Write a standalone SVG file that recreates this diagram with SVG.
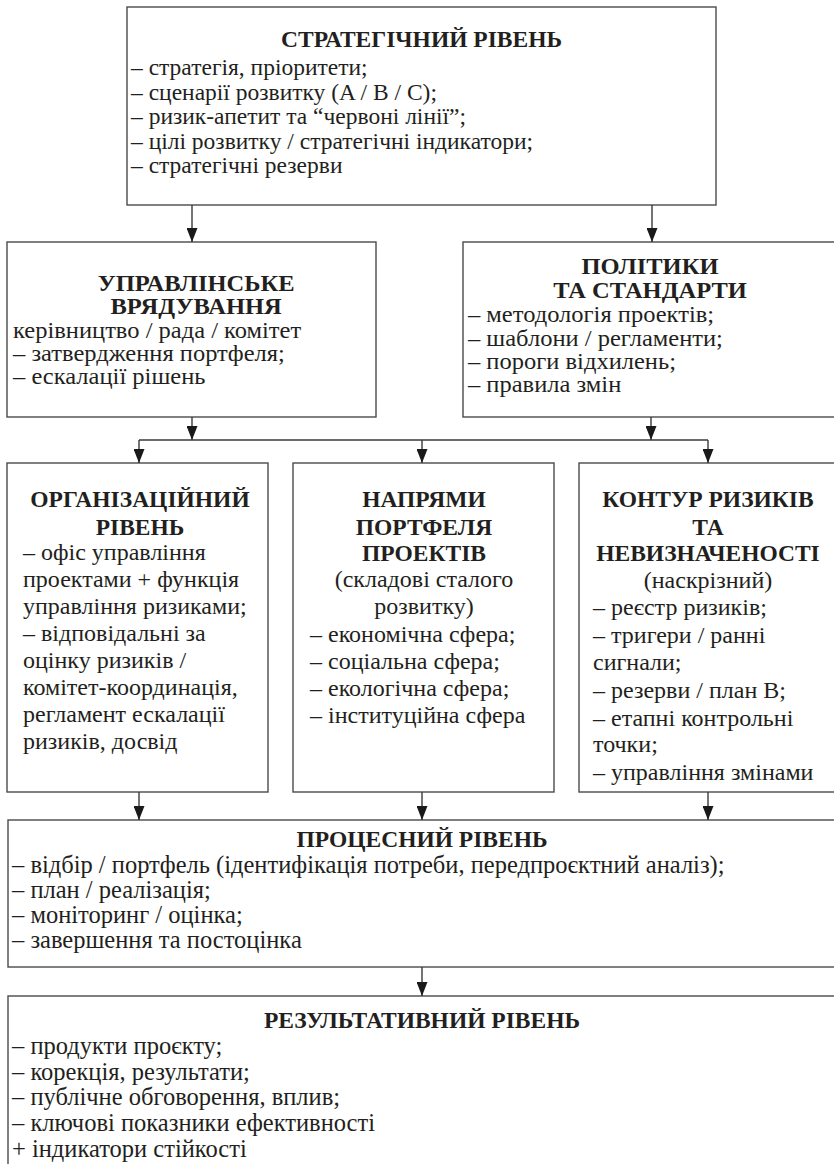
<svg xmlns="http://www.w3.org/2000/svg" width="834" height="1164" viewBox="0 0 834 1164">
<style>
.box{fill:#fff;stroke:#4a4a4a;stroke-width:1.4}
.t{font-family:"Liberation Serif","Times New Roman",serif;fill:#231f20}
.h{font-weight:bold;text-anchor:middle}
.c{text-anchor:middle}
.s1{font-size:23.5px}
.h1{font-size:23.5px}
.s2{font-size:22.5px}
.s4{font-size:24.5px}
.s3{font-size:24px}
.h3{font-size:23.5px}
.con{stroke:#3a3a3a;stroke-width:1.4;fill:none}
</style>
<defs>
<marker id="ah" markerUnits="userSpaceOnUse" markerWidth="14" markerHeight="11" viewBox="0 0 14 11" refX="14" refY="5.5" orient="auto">
<path d="M0,0 L14,5.5 L0,11 Z" fill="#1a1a1a"/>
</marker>
</defs>

<g id="strategic">
<rect class="box" x="127" y="7" width="589" height="198"/>
<text class="t h h1" x="421.5" y="47">СТРАТЕГІЧНИЙ РІВЕНЬ</text>
<text class="t s1" x="131" y="75">– стратегія, пріоритети;</text>
<text class="t s1" x="131" y="99.5">– сценарії розвитку (A / B / C);</text>
<text class="t s1" x="131" y="124">– ризик-апетит та “червоні лінії”;</text>
<text class="t s1" x="131" y="148.5">– цілі розвитку / стратегічні індикатори;</text>
<text class="t s1" x="131" y="173">– стратегічні резерви</text>
</g>

<g id="governance">
<rect class="box" x="7" y="242" width="369" height="175"/>
<g transform="translate(13,0) scale(1.09,1) translate(-13,0)">
<text class="t h s2" x="181" y="291">УПРАВЛІНСЬКЕ</text>
<text class="t h s2" x="181" y="314">ВРЯДУВАННЯ</text>
<text class="t s2" x="13" y="338">керівництво / рада / комітет</text>
<text class="t s2" x="13" y="361">– затвердження портфеля;</text>
<text class="t s2" x="13" y="384">– ескалації рішень</text>
</g>
</g>

<g id="policies">
<rect class="box" x="463" y="242" width="378" height="175"/>
<g transform="translate(468,0) scale(1.09,1) translate(-468,0)">
<text class="t h s2" x="635" y="274">ПОЛІТИКИ</text>
<text class="t h s2" x="635" y="298">ТА СТАНДАРТИ</text>
<text class="t s2" x="468" y="322">– методологія проектів;</text>
<text class="t s2" x="468" y="346">– шаблони / регламенти;</text>
<text class="t s2" x="468" y="369">– пороги відхилень;</text>
<text class="t s2" x="468" y="392">– правила змін</text>
</g>
</g>

<g id="organizational">
<rect class="box" x="7" y="463" width="261" height="329"/>
<text class="t h h3" x="140" y="507">ОРГАНІЗАЦІЙНИЙ</text>
<text class="t h h3" x="140" y="535">РІВЕНЬ</text>
<text class="t s3" x="23" y="560">– офіс управління</text>
<text class="t s3" x="23" y="587">проектами + функція</text>
<text class="t s3" x="23" y="614">управління ризиками;</text>
<text class="t s3" x="23" y="641">– відповідальні за</text>
<text class="t s3" x="23" y="668">оцінку ризиків /</text>
<text class="t s3" x="23" y="695">комітет-координація,</text>
<text class="t s3" x="23" y="722">регламент ескалації</text>
<text class="t s3" x="23" y="749">ризиків, досвід</text>
</g>

<g id="portfolio">
<rect class="box" x="293" y="463" width="261" height="329"/>
<text class="t h h3" x="424" y="507">НАПРЯМИ</text>
<text class="t h h3" x="424" y="535">ПОРТФЕЛЯ</text>
<text class="t h h3" x="424" y="561">ПРОЕКТІВ</text>
<text class="t c s3" x="424" y="587">(складові сталого</text>
<text class="t c s3" x="424" y="614">розвитку)</text>
<text class="t s3" x="310" y="642">– економічна сфера;</text>
<text class="t s3" x="310" y="669">– соціальна сфера;</text>
<text class="t s3" x="310" y="696">– екологічна сфера;</text>
<text class="t s3" x="310" y="723">– інституційна сфера</text>
</g>

<g id="risk">
<rect class="box" x="579" y="463" width="262" height="329"/>
<text class="t h h3" x="708" y="507">КОНТУР РИЗИКІВ</text>
<text class="t h h3" x="708" y="535">ТА</text>
<text class="t h h3" x="708" y="561">НЕВИЗНАЧЕНОСТІ</text>
<text class="t c s3" x="708" y="588">(наскрізний)</text>
<text class="t s3" x="593" y="615">– реєстр ризиків;</text>
<text class="t s3" x="593" y="643">– тригери / ранні</text>
<text class="t s3" x="593" y="670">сигнали;</text>
<text class="t s3" x="593" y="698">– резерви / план В;</text>
<text class="t s3" x="593" y="726">– етапні контрольні</text>
<text class="t s3" x="593" y="752">точки;</text>
<text class="t s3" x="593" y="780">– управління змінами</text>
</g>

<g id="process">
<rect class="box" x="8" y="820" width="830" height="147"/>
<text class="t h h1" x="422" y="847">ПРОЦЕСНИЙ РІВЕНЬ</text>
<text class="t s4" x="12" y="873">– відбір / портфель (ідентифікація потреби, передпроєктний аналіз);</text>
<text class="t s4" x="12" y="898">– план / реалізація;</text>
<text class="t s4" x="12" y="923">– моніторинг / оцінка;</text>
<text class="t s4" x="12" y="948">– завершення та постоцінка</text>
</g>

<g id="result">
<rect class="box" x="8" y="996" width="830" height="190"/>
<text class="t h h1" x="422" y="1028">РЕЗУЛЬТАТИВНИЙ РІВЕНЬ</text>
<text class="t s4" x="12" y="1054">– продукти проєкту;</text>
<text class="t s4" x="12" y="1080">– корекція, результати;</text>
<text class="t s4" x="12" y="1105">– публічне обговорення, вплив;</text>
<text class="t s4" x="12" y="1131">– ключові показники ефективності</text>
<text class="t s4" x="12" y="1157">+ індикатори стійкості</text>
</g>

<g id="connectors">
<line class="con" x1="192" y1="205" x2="192" y2="242" marker-end="url(#ah)"/>
<line class="con" x1="652" y1="205" x2="652" y2="242" marker-end="url(#ah)"/>
<line class="con" x1="192" y1="417" x2="192" y2="440" marker-end="url(#ah)"/>
<line class="con" x1="651" y1="417" x2="651" y2="440" marker-end="url(#ah)"/>
<line class="con" x1="139" y1="440" x2="708" y2="440"/>
<line class="con" x1="139" y1="440" x2="139" y2="463" marker-end="url(#ah)"/>
<line class="con" x1="422" y1="440" x2="422" y2="463" marker-end="url(#ah)"/>
<line class="con" x1="708" y1="440" x2="708" y2="463" marker-end="url(#ah)"/>
<line class="con" x1="139" y1="792" x2="139" y2="820" marker-end="url(#ah)"/>
<line class="con" x1="422" y1="792" x2="422" y2="820" marker-end="url(#ah)"/>
<line class="con" x1="708" y1="792" x2="708" y2="820" marker-end="url(#ah)"/>
<line class="con" x1="422" y1="967" x2="422" y2="996" marker-end="url(#ah)"/>
</g>
</svg>
